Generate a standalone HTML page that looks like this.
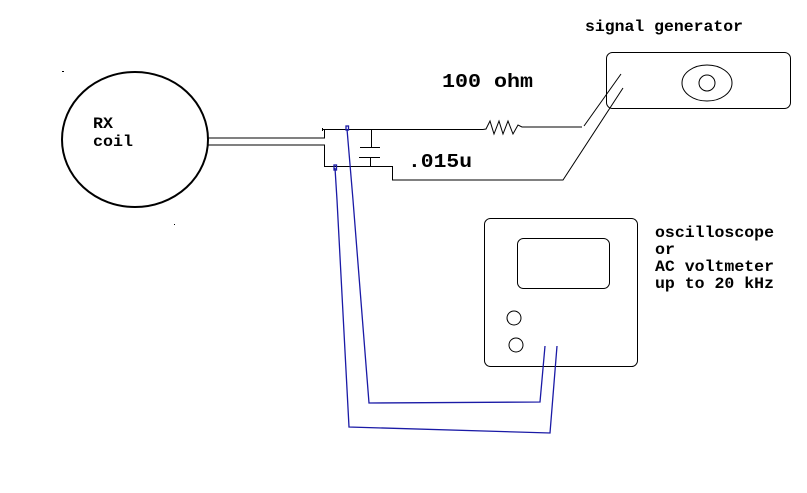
<!DOCTYPE html>
<html><head><meta charset="utf-8"><style>
html,body{margin:0;padding:0;background:#fff;}
svg{display:block;}
text{font-family:"Liberation Mono","DejaVu Sans Mono",monospace;font-weight:bold;fill:#000;}
</style></head><body>
<svg width="807" height="493" viewBox="0 0 807 493" xmlns="http://www.w3.org/2000/svg">
<rect width="807" height="493" fill="#fff"/>
<g fill="none" stroke="#000" stroke-width="1">
  <!-- coil -->
  <ellipse cx="135" cy="139.5" rx="73" ry="67.5" stroke-width="2"/>
  <!-- coil leads -->
  <polyline points="208,138 324.5,138 324.5,129"/>
  <polyline points="208,145 324.5,145 324.5,166.5 392.5,166.5 392.5,180 563,180 623,88"/>
  <line x1="322.5" y1="128" x2="322.5" y2="131"/>
  <line x1="323" y1="129.5" x2="483" y2="129.5"/>
  <!-- capacitor -->
  <line x1="371.5" y1="129" x2="371.5" y2="147"/>
  <line x1="360" y1="147.5" x2="380" y2="147.5"/>
  <line x1="359" y1="157.5" x2="380" y2="157.5"/>
  <line x1="370.5" y1="157" x2="370.5" y2="167"/>
  <!-- resistor -->
  <polyline points="483,129.5 486,129 490,121 494,134 499,121 503,134 508,121 513,134 518,125 522,127 582,127"/>
  <line x1="584" y1="126" x2="621" y2="74"/>
  <!-- signal generator -->
  <rect x="606.5" y="52.5" width="184" height="56" rx="6" ry="6"/>
  <ellipse cx="707" cy="83" rx="25" ry="18"/>
  <circle cx="707" cy="83" r="8"/>
  <!-- oscilloscope -->
  <rect x="484.5" y="218.5" width="153" height="148" rx="6" ry="6"/>
  <rect x="517.5" y="238.5" width="92" height="50" rx="6" ry="6"/>
  <circle cx="514" cy="318" r="7"/>
  <circle cx="516" cy="345" r="7"/>
</g>
<!-- probes -->
<g fill="none" stroke="#1a1aa6" stroke-width="1.3">
  <polyline points="347,129 353,200 369,403 540,402 545,346"/>
  <polyline points="335,168 337,200 349,427 550,433 557,346"/>
  <rect x="346" y="126" width="2.5" height="4"/>
  <rect x="334" y="165" width="2.5" height="5"/>
</g>
<rect x="62" y="71" width="2" height="1" fill="#000"/>
<rect x="174" y="224" width="1" height="1" fill="#000"/>
<!-- text -->
<text x="585" y="31" font-size="16" textLength="158" lengthAdjust="spacingAndGlyphs">signal generator</text>
<text x="442" y="87" font-size="19" textLength="91" lengthAdjust="spacingAndGlyphs">100 ohm</text>
<text x="408" y="167" font-size="19" textLength="64" lengthAdjust="spacingAndGlyphs">.015u</text>
<text x="93" y="128" font-size="16" textLength="20" lengthAdjust="spacingAndGlyphs">RX</text>
<text x="93" y="146" font-size="16" textLength="40" lengthAdjust="spacingAndGlyphs">coil</text>
<text x="655" y="237" font-size="16" textLength="119" lengthAdjust="spacingAndGlyphs">oscilloscope</text>
<text x="655" y="254" font-size="16" textLength="20" lengthAdjust="spacingAndGlyphs">or</text>
<text x="655" y="271" font-size="16" textLength="119" lengthAdjust="spacingAndGlyphs">AC voltmeter</text>
<text x="655" y="288" font-size="16" textLength="119" lengthAdjust="spacingAndGlyphs">up to 20 kHz</text>
</svg>
</body></html>
